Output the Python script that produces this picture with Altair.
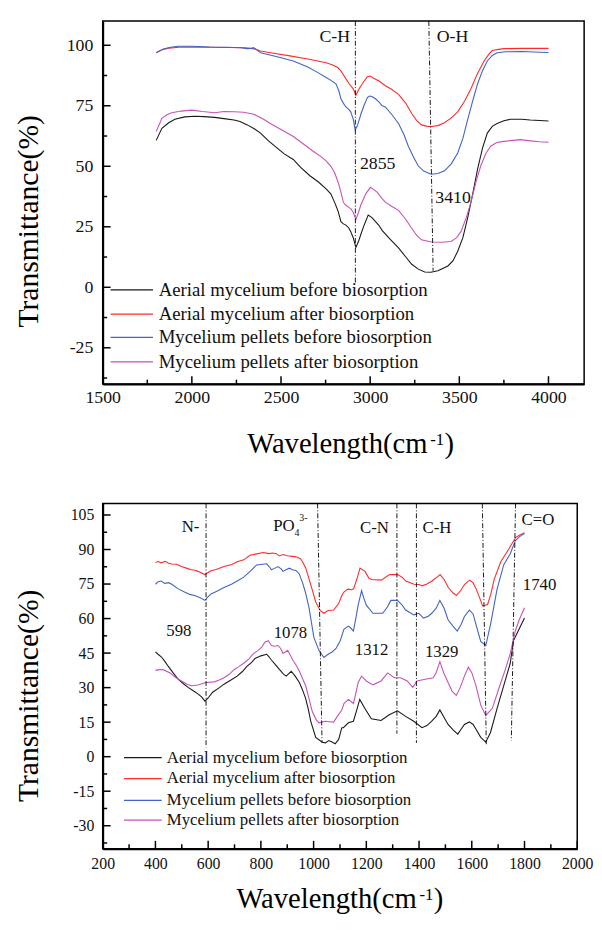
import altair as alt
import pandas as pd

FONT = "Liberation Serif"
SERIES = ["Aerial mycelium before biosorption", "Aerial mycelium after biosorption",
          "Mycelium pellets before biosorption", "Mycelium pellets after biosorption"]
COLORS = ["#1a1a1a", "#ff2b2b", "#4262c8", "#c653b8"]

# ---------------- top panel (1500-4000 cm-1) ----------------
top_black_x = [1800, 1832, 1870, 1905, 1960, 2016, 2070, 2127, 2180, 2237, 2270, 2311, 2350, 2385, 2430, 2477,
               2520, 2569, 2610, 2662, 2710, 2753, 2780, 2800, 2820, 2836, 2850, 2864, 2880, 2891, 2905, 2920,
               2935, 2947, 2965, 2989, 3010, 3030, 3050, 3067, 3110, 3159, 3200, 3233, 3270, 3306, 3340, 3380,
               3436, 3465, 3491, 3520, 3546, 3575, 3602, 3630, 3657, 3685, 3712, 3750, 3786, 3850, 3897, 3950, 4000]
top_black_y = [60.7, 65.7, 68.0, 69.4, 70.4, 70.7, 70.5, 70.2, 69.7, 69.1, 68.5, 67.1, 65.5, 63.7, 60.5, 57.6,
               55.0, 52.8, 49.5, 46.1, 43.5, 40.7, 38.5, 35.2, 31.5, 27.1, 26.2, 25.7, 24.5, 23.0, 20.5, 16.5,
               19.0, 21.7, 25.5, 29.8, 28.8, 27.1, 25.5, 23.5, 20.0, 16.3, 12.5, 9.5, 7.5, 6.3, 6.2, 6.8,
               8.8, 11.0, 14.9, 20.5, 28.5, 38.5, 48.7, 57.5, 63.7, 66.5, 67.7, 68.8, 69.4, 69.4, 69.1, 68.9, 68.7]

top_red_x = [1800, 1830, 1870, 1930, 2000, 2100, 2200, 2300, 2350, 2385, 2450, 2550, 2650, 2753, 2790, 2818,
             2835, 2847, 2865, 2883, 2905, 2920, 2938, 2960, 2984, 3000, 3019, 3050, 3085, 3120, 3159, 3200,
             3233, 3260, 3288, 3320, 3343, 3380, 3417, 3455, 3491, 3530, 3565, 3600, 3639, 3665, 3685, 3720,
             3749, 3850, 4000]
top_red_y = [96.9, 98.0, 98.8, 99.2, 99.3, 99.2, 99.1, 99.0, 98.5, 97.6, 96.8, 95.6, 94.3, 92.8, 91.8, 90.8,
             89.5, 88.1, 86.0, 84.0, 82.0, 79.3, 82.0, 84.5, 87.0, 87.3, 86.4, 85.2, 83.3, 81.8, 79.7, 76.0,
             71.8, 69.0, 67.1, 66.5, 66.4, 66.8, 68.0, 70.0, 72.5, 77.0, 82.0, 88.0, 93.5, 96.2, 97.8, 98.3,
             98.6, 98.7, 98.7]

top_blue_x = [1800, 1840, 1880, 1924, 2000, 2100, 2200, 2274, 2310, 2330, 2345, 2360, 2385, 2450, 2500, 2569,
              2650, 2700, 2753, 2780, 2809, 2825, 2836, 2850, 2864, 2880, 2891, 2905, 2916, 2927, 2938, 2950,
              2966, 2985, 2997, 3010, 3030, 3050, 3067, 3085, 3120, 3159, 3190, 3214, 3245, 3270, 3300, 3343,
              3380, 3417, 3455, 3491, 3520, 3546, 3575, 3602, 3630, 3657, 3685, 3712, 3760, 3850, 3950, 4000]
top_blue_y = [96.9, 98.5, 99.2, 99.6, 99.6, 99.3, 99.2, 99.0, 98.6, 98.7, 99.0, 98.4, 96.9, 95.8, 94.8, 93.5,
              91.0, 89.0, 86.7, 85.5, 84.0, 81.0, 77.9, 76.0, 74.5, 73.5, 72.5, 69.5, 65.0, 66.5, 69.1, 72.0,
              75.2, 78.5, 79.0, 78.8, 77.9, 76.5, 75.0, 74.5, 71.5, 67.7, 63.0, 58.3, 53.5, 50.1, 48.0, 46.7,
              47.0, 48.1, 51.0, 55.5, 61.5, 69.1, 77.0, 84.0, 89.5, 93.5, 95.8, 96.9, 97.3, 97.4, 97.1, 97.0]

top_mag_x = [1800, 1832, 1860, 1887, 1940, 1998, 2060, 2127, 2180, 2237, 2290, 2348, 2400, 2440, 2500, 2569,
             2620, 2680, 2720, 2753, 2780, 2800, 2820, 2836, 2850, 2864, 2880, 2891, 2905, 2920, 2935, 2947,
             2975, 3002, 3039, 3067, 3085, 3120, 3159, 3200, 3233, 3260, 3288, 3343, 3400, 3454, 3485, 3509,
             3540, 3565, 3595, 3620, 3650, 3676, 3710, 3749, 3800, 3842, 3900, 3950, 4000]
top_mag_y = [64.3, 69.8, 71.3, 72.1, 72.8, 73.2, 72.6, 72.1, 72.6, 72.5, 72.3, 71.5, 69.5, 67.7, 65.2, 62.3,
             59.5, 56.2, 54.2, 52.2, 50.0, 47.4, 43.5, 39.3, 35.0, 33.9, 33.0, 32.5, 31.0, 28.0, 31.0, 33.9,
             38.6, 41.3, 39.3, 36.6, 35.2, 33.5, 31.8, 28.0, 24.4, 21.5, 19.6, 18.7, 18.6, 18.9, 20.5, 23.0,
             29.0, 35.2, 44.0, 50.1, 55.5, 58.3, 59.8, 60.3, 60.7, 61.0, 60.5, 60.1, 59.9]

top_x_labels = [1500, 2000, 2500, 3000, 3500, 4000]
top_x_minor = [1750, 2250, 2750, 3250, 3750]
top_y_labels = [-25, 0, 25, 50, 75, 100]
top_y_minor = [-37.5, -12.5, 12.5, 37.5, 62.5, 87.5]

top_ann_text = ["C-H", "O-H", "2855", "3410"]
top_ann_x = [2801, 3462, 3042, 3465]
top_ann_y = [103.4, 103.4, 51.0, 36.7]
top_vline_x = [2917, 3329]
top_vline_x2 = [2917, 3353]
top_vline_y = [110, 110]
top_vline_y2 = [1.4, 6.8]
top_leg_y = [-1.1, -11.1, -20.7, -30.8]
top_leg_x = [1544, 1782, 1814]  # line start, line end, text start

# ---------------- bottom panel (400-1800 cm-1) ----------------
bot_black_x = [400, 410, 422, 435, 449, 468, 487, 505, 524, 545, 561, 575, 588, 600, 617, 640, 660, 685, 710,
               730, 747, 765, 778, 800, 822, 830, 840, 855, 871, 885, 896, 915, 930, 946, 958, 970, 980, 989,
               1008, 1033, 1045, 1057, 1068, 1082, 1095, 1107, 1113, 1132, 1151, 1163, 1175, 1194, 1219, 1256,
               1287, 1318, 1349, 1380, 1411, 1430, 1448, 1465, 1479, 1495, 1510, 1530, 1547, 1560, 1572, 1591,
               1605, 1616, 1634, 1653, 1671, 1696, 1721, 1746, 1758, 1800]
bot_black_y = [45.5, 44.5, 43.4, 41.5, 39.2, 36.3, 33.6, 31.8, 30.1, 28.5, 27.3, 26.0, 24.1, 25.5, 28.0, 29.8,
               31.5, 33.2, 35.0, 37.0, 39.2, 41.0, 42.7, 43.8, 44.5, 43.5, 42.0, 40.0, 37.8, 36.0, 35.0, 37.1,
               35.0, 32.2, 29.0, 25.2, 20.5, 15.4, 8.4, 6.3, 6.0, 7.0, 6.5, 5.6, 7.5, 12.6, 12.6, 14.7, 15.4,
               20.0, 24.9, 21.0, 16.5, 15.7, 18.2, 19.9, 17.5, 15.4, 12.6, 13.5, 15.4, 17.5, 20.3, 17.0, 14.0,
               11.5, 9.8, 12.0, 14.0, 15.1, 14.0, 11.9, 8.4, 6.3, 10.5, 21.0, 30.8, 40.6, 50.4, 60.2]

bot_red_x = [400, 410, 422, 437, 450, 462, 480, 499, 520, 536, 550, 561, 575, 588, 600, 611, 630, 660, 690,
             710, 735, 759, 780, 809, 830, 845, 859, 870, 884, 900, 920, 933, 950, 958, 970, 983, 995, 1008,
             1025, 1039, 1055, 1076, 1095, 1107, 1114, 1130, 1145, 1152, 1165, 1176, 1195, 1210, 1220, 1257,
             1288, 1319, 1335, 1350, 1381, 1400, 1412, 1430, 1449, 1468, 1480, 1495, 1511, 1530, 1542, 1560,
             1573, 1592, 1605, 1617, 1630, 1641, 1660, 1672, 1685, 1710, 1741, 1766, 1780, 1800]
bot_red_y = [84.3, 84.8, 84.2, 84.9, 84.0, 83.7, 83.6, 82.6, 81.8, 81.2, 81.0, 80.5, 79.8, 79.1, 80.0, 80.8,
             81.3, 82.6, 83.5, 84.7, 85.5, 87.5, 88.0, 88.7, 88.2, 88.5, 88.2, 87.2, 87.8, 87.3, 87.0, 86.8,
             86.0, 84.7, 82.0, 77.0, 72.5, 67.2, 63.5, 62.3, 63.5, 63.7, 66.5, 70.0, 71.4, 72.8, 72.5, 73.0,
             77.5, 81.9, 80.5, 77.5, 77.0, 76.7, 79.1, 79.1, 78.0, 76.3, 74.9, 74.8, 74.2, 75.0, 76.3, 78.0,
             79.1, 77.0, 73.5, 71.0, 70.0, 72.5, 74.9, 76.7, 75.5, 72.8, 69.0, 65.5, 66.1, 70.5, 77.0, 84.7,
             90.3, 95.2, 96.2, 97.3]

bot_blue_x = [400, 410, 422, 435, 450, 462, 485, 512, 530, 549, 570, 588, 600, 611, 635, 660, 680, 690, 710,
              735, 759, 784, 800, 822, 832, 840, 852, 865, 878, 884, 895, 908, 920, 933, 945, 958, 970, 983,
              1001, 1020, 1039, 1055, 1070, 1085, 1101, 1115, 1132, 1140, 1151, 1160, 1169, 1182, 1190, 1200,
              1225, 1262, 1280, 1293, 1318, 1335, 1349, 1380, 1399, 1417, 1435, 1448, 1465, 1479, 1495, 1510,
              1530, 1545, 1560, 1572, 1591, 1605, 1616, 1634, 1653, 1671, 1696, 1721, 1746, 1765, 1780, 1800]
bot_blue_y = [74.9, 76.0, 76.3, 75.3, 75.6, 74.9, 73.0, 71.4, 70.5, 70.0, 69.0, 67.9, 69.5, 70.7, 72.0, 73.5,
              74.5, 75.0, 76.3, 78.0, 80.5, 83.3, 83.5, 83.8, 82.5, 81.2, 81.8, 82.6, 81.5, 80.5, 81.2, 81.9,
              81.2, 80.9, 79.5, 75.6, 71.0, 64.4, 51.8, 46.2, 43.1, 44.5, 45.5, 47.0, 50.4, 55.3, 56.7, 56.0,
              54.6, 60.0, 65.8, 72.1, 69.0, 65.8, 62.3, 62.3, 65.0, 67.9, 67.9, 66.0, 63.7, 61.6, 62.3, 60.2,
              61.0, 62.3, 64.5, 67.9, 64.5, 59.5, 56.5, 54.6, 57.5, 60.9, 63.7, 62.0, 57.4, 50.1, 48.3, 57.4,
              72.8, 83.3, 88.2, 93.8, 95.5, 96.9]

bot_mag_x = [400, 415, 429, 456, 475, 499, 520, 536, 561, 592, 623, 640, 660, 680, 698, 715, 735, 755, 772,
             790, 803, 815, 828, 840, 852, 865, 875, 884, 902, 912, 921, 935, 946, 958, 970, 983, 995, 1010,
             1020, 1045, 1060, 1076, 1090, 1107, 1115, 1132, 1151, 1160, 1169, 1182, 1200, 1225, 1256, 1281,
             1306, 1330, 1355, 1376, 1392, 1423, 1454, 1465, 1479, 1495, 1510, 1525, 1541, 1556, 1572, 1587,
             1600, 1616, 1634, 1653, 1678, 1702, 1727, 1746, 1765, 1780, 1800]
bot_mag_y = [37.5, 37.8, 37.8, 36.4, 34.5, 32.9, 31.5, 30.8, 31.1, 32.2, 32.5, 33.2, 34.3, 35.8, 37.8, 39.0,
             40.6, 42.5, 44.8, 46.2, 47.6, 49.7, 50.4, 48.3, 48.0, 48.3, 47.0, 44.8, 46.2, 44.0, 42.0, 39.5,
             37.1, 34.0, 30.8, 25.0, 19.6, 16.0, 14.7, 15.4, 15.2, 15.0, 17.5, 20.3, 23.1, 24.9, 23.1, 27.5,
             32.2, 35.0, 32.9, 31.2, 32.9, 36.4, 34.3, 34.3, 32.9, 30.1, 32.9, 33.6, 34.3, 36.5, 41.3, 36.0,
             32.2, 28.5, 26.6, 30.0, 35.0, 38.9, 36.5, 30.8, 22.4, 17.9, 21.0, 29.4, 37.8, 44.8, 54.6, 59.5, 64.7]

bot_x_labels = [200, 400, 600, 800, 1000, 1200, 1400, 1600, 1800, 2000]
bot_x_minor = [300, 500, 700, 900, 1100, 1300, 1500, 1700, 1900]
bot_y_labels = [-30, -15, 0, 15, 30, 45, 60, 75, 90, 105]
bot_y_minor = [-37.5, -22.5, -7.5, 7.5, 22.5, 37.5, 52.5, 67.5, 82.5, 97.5]

bot_ann_text = ["N-", "C-N", "C-H", "C=O", "598", "1078", "1312", "1329", "1740"]
bot_ann_x = [533, 1231, 1468, 1851, 489, 912, 1220, 1486, 1857]
bot_ann_y = [99.7, 99.1, 99.1, 102.9, 54.7, 53.6, 46.2, 45.4, 74.6]
bot_vline_x = [592, 1015, 1316, 1390, 1640, 1766]
bot_vline_x2 = [592, 1032, 1316, 1390, 1655, 1750]
bot_vline_y = [110, 110, 110, 110, 110, 110]
bot_vline_y2 = [4.0, 6.0, 10.0, 6.0, 5.4, 7.0]
bot_leg_y = [-0.4, -9.5, -19.0, -27.6]
bot_leg_x = [281, 424, 443]

po_text = ["PO", "4", "3-"]
po_x = [928, 928, 946]
po_y = [100.0, 97.3, 103.6]

X_TITLE = ["Wavelength(cm", "-1", ")"]
Y_TITLE = "Transmittance(%)"


def long_df(xs_list, ys_list):
    rows = []
    for name, xs, ys in zip(SERIES, xs_list, ys_list):
        for i, (a, b) in enumerate(zip(xs, ys)):
            rows.append({"x": a, "y": b, "series": name, "i": i})
    return pd.DataFrame(rows)


cscale = alt.Scale(domain=SERIES, range=COLORS)


def label_text(txt, x, y, size, angle=0):
    kw = dict(text=txt, fontSize=size, color="black", align="left", baseline="alphabetic")
    if angle:
        kw.update(angle=angle, align="center", baseline="middle")
    return alt.Chart(pd.DataFrame({"k": [0]})).mark_text(**kw).encode(x=alt.value(x), y=alt.value(y))


def panel(df, xdom, ydom, W, H, xlabels, xminor, ylabels, yminor,
          tick_fs, label_pad_x, label_pad_y, xt_x, xt_base, yt_x, yt_y,
          ann_df, ann_fs, vline_df, leg_df, leg_fs, extra=None):
    xs = alt.Scale(domain=xdom, nice=False, zero=False)
    ys = alt.Scale(domain=ydom, nice=False, zero=False)
    xaxis = alt.Axis(values=xlabels, labelExpr="'' + datum.value", labelFontSize=tick_fs,
                     labelPadding=label_pad_x, title=None)
    yaxis = alt.Axis(values=ylabels, labelExpr="'' + datum.value", labelFontSize=tick_fs,
                     labelPadding=label_pad_y, title=None)

    def X(f="x:Q"):
        return alt.X(f, scale=xs, axis=xaxis)

    def Y(f="y:Q"):
        return alt.Y(f, scale=ys, axis=yaxis)

    lines = alt.Chart(df).mark_line(strokeWidth=1.1).encode(
        x=X(), y=Y(), color=alt.Color("series:N", scale=cscale, legend=None), order="i:Q")
    xt_major = alt.Chart(pd.DataFrame({"x": xlabels})).mark_rule(color="black", strokeWidth=1.5).encode(
        x=X(), y=alt.value(H), y2=alt.value(H - 8))
    xt_minor = alt.Chart(pd.DataFrame({"x": xminor})).mark_rule(color="black", strokeWidth=1.5).encode(
        x=X(), y=alt.value(H), y2=alt.value(H - 4.5))
    yt_major = alt.Chart(pd.DataFrame({"y": ylabels})).mark_rule(color="black", strokeWidth=1.5).encode(
        y=Y(), x=alt.value(0), x2=alt.value(8))
    yt_minor = alt.Chart(pd.DataFrame({"y": yminor})).mark_rule(color="black", strokeWidth=1.5).encode(
        y=Y(), x=alt.value(0), x2=alt.value(4.5))
    vlines = alt.Chart(vline_df).mark_rule(color="black", strokeWidth=0.9, strokeDash=[5, 2, 1, 2]).encode(
        x=X(), x2="x2:Q", y=Y(), y2="y2:Q")
    ann = alt.Chart(ann_df).mark_text(fontSize=ann_fs, color="#111111", align="center",
                                      baseline="middle").encode(x=X(), y=Y(), text="t:N")
    leg_line = alt.Chart(leg_df).mark_rule(strokeWidth=1.3).encode(
        x=X(), x2="x2:Q", y=Y(), color=alt.Color("series:N", scale=cscale, legend=None))
    leg_text = alt.Chart(leg_df).mark_text(fontSize=leg_fs, color="#111111", align="left",
                                           baseline="middle").encode(x=X("xt:Q"), y=Y(), text="series:N")
    # axis titles (with the superscript -1)
    t_main = label_text(X_TITLE[0], xt_x, H + xt_base, 29)
    t_sup = label_text(X_TITLE[1], xt_x + 185.5, H + xt_base - 8, 17)
    t_end = label_text(X_TITLE[2], xt_x + 200, H + xt_base, 29)
    t_y = label_text(Y_TITLE, yt_x, yt_y, 30, angle=270)
    layers = [lines, xt_major, xt_minor, yt_major, yt_minor, vlines, ann, leg_line, leg_text,
              t_main, t_sup, t_end, t_y]
    if extra is not None:
        layers.append(alt.Chart(extra.iloc[[0]]).mark_text(fontSize=17, color="#111111", align="right",
                                                            baseline="middle").encode(x=X(), y=Y(), text="t:N"))
        layers.append(alt.Chart(extra.iloc[[1, 2]]).mark_text(fontSize=10, color="#111111", align="left",
                                                               baseline="middle").encode(x=X(), y=Y(), text="t:N"))
    return alt.layer(*layers).properties(width=W, height=H)


top_df = long_df([top_black_x, top_red_x, top_blue_x, top_mag_x], [top_black_y, top_red_y, top_blue_y, top_mag_y])
bot_df = long_df([bot_black_x, bot_red_x, bot_blue_x, bot_mag_x], [bot_black_y, bot_red_y, bot_blue_y, bot_mag_y])

top_ann = pd.DataFrame({"x": top_ann_x, "y": top_ann_y, "t": top_ann_text})
bot_ann = pd.DataFrame({"x": bot_ann_x, "y": bot_ann_y, "t": bot_ann_text})
top_vl = pd.DataFrame({"x": top_vline_x, "x2": top_vline_x2, "y": top_vline_y, "y2": top_vline_y2})
bot_vl = pd.DataFrame({"x": bot_vline_x, "x2": bot_vline_x2, "y": bot_vline_y, "y2": bot_vline_y2})
top_leg = pd.DataFrame({"series": SERIES, "y": top_leg_y, "x": [top_leg_x[0]] * 4, "x2": [top_leg_x[1]] * 4,
                        "xt": [top_leg_x[2]] * 4})
bot_leg = pd.DataFrame({"series": SERIES, "y": bot_leg_y, "x": [bot_leg_x[0]] * 4, "x2": [bot_leg_x[1]] * 4,
                        "xt": [bot_leg_x[2]] * 4})
po_df = pd.DataFrame({"x": po_x, "y": po_y, "t": po_text})

top = panel(top_df, [1500, 4200], [-40, 110], 488, 368, top_x_labels, top_x_minor, top_y_labels, top_y_minor,
            18, 5, 10, 146.5, 70, -75, 203, top_ann, 18, top_vl, top_leg, 19)
bottom = panel(bot_df, [200, 2000], [-40, 110], 481, 350, bot_x_labels, bot_x_minor, bot_y_labels, bot_y_minor,
               16, 7, 9, 135.5, 60, -75, 195, bot_ann, 17, bot_vl, bot_leg, 17, extra=po_df)

chart = alt.vconcat(top, bottom, spacing=42).properties(
    padding={"left": 5, "top": 5, "right": 0, "bottom": 0}
).configure(background="white", font=FONT).configure_view(
    stroke="black", strokeWidth=1.5
).configure_axis(
    labelFont=FONT, titleFont=FONT, labelColor="#111111", titleColor="black", titleFontWeight="normal",
    ticks=False, grid=False, labelFlush=False, labelOverlap=False, domain=True, domainColor="black",
    domainWidth=2
).configure_text(font=FONT)

chart.save("out.html", embed_options={"renderer": "svg", "actions": False})
